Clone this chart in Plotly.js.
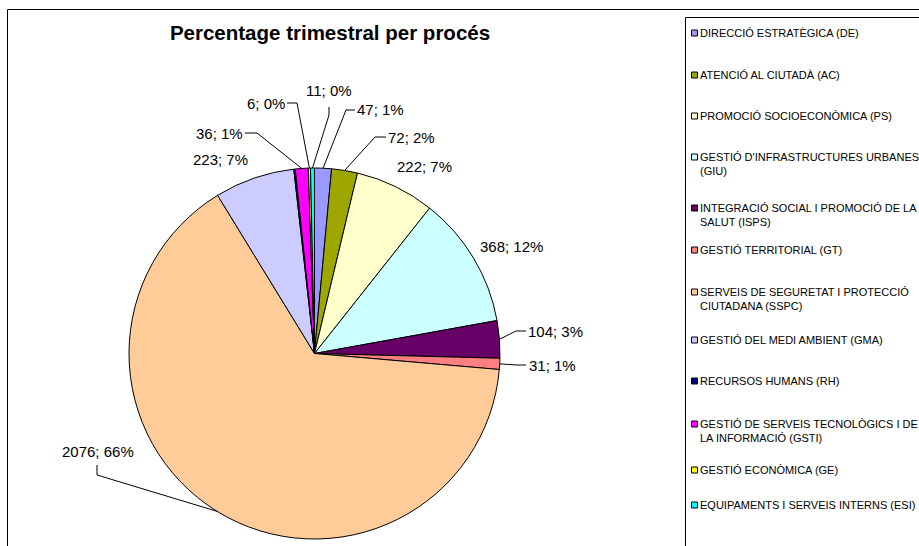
<!DOCTYPE html>
<html>
<head>
<meta charset="utf-8">
<script src="https://cdn.plot.ly/plotly-3.0.1.min.js"></script>
<style>html,body{margin:0;padding:0;background:#fff;}#chart{width:919px;height:546px;}</style>
</head>
<body>
<div id="chart"></div>
<script>
// ---- data ----
const categories = [
  "DIRECCIÓ ESTRATÈGICA (DE)",
  "ATENCIÓ AL CIUTADÀ (AC)",
  "PROMOCIÓ SOCIOECONÒMICA (PS)",
  "GESTIÓ D'INFRASTRUCTURES URBANES<br>(GIU)",
  "INTEGRACIÓ SOCIAL I PROMOCIÓ DE LA<br>SALUT (ISPS)",
  "GESTIÓ TERRITORIAL (GT)",
  "SERVEIS DE SEGURETAT I PROTECCIÓ<br>CIUTADANA (SSPC)",
  "GESTIÓ DEL MEDI AMBIENT (GMA)",
  "RECURSOS HUMANS (RH)",
  "GESTIÓ DE SERVEIS TECNOLÒGICS I DE<br>LA INFORMACIÓ (GSTI)",
  "GESTIÓ ECONÒMICA (GE)",
  "EQUIPAMENTS I SERVEIS INTERNS (ESI)"
];
const values = [47, 72, 222, 368, 104, 31, 2076, 223, 4, 36, 6, 11];
const pctLabels = ["1%", "2%", "7%", "12%", "3%", "1%", "66%", "7%", "", "1%", "0%", "0%"];
const colors = ["#9999FF", "#9EA600", "#FFFFCC", "#CCFFFF", "#660066", "#FF8080",
                "#FFCC99", "#CCCCFF", "#000080", "#FF00FF", "#FFFF00", "#00FFFF"];

// ---- layout config (pixels) ----
const W = 919, H = 546;
const FONT = "Liberation Sans, Arial, sans-serif";
const pie = {cx: 314.5, cy: 353.5, r: 185.5};
// label text centres and leader elbows (null = no leader, no label for RH)
const labelPos = [
  {x: 380, y: 110, lead: [[355,110],[346,110]]},
  {x: 411.5, y: 137, lead: [[386,137],[375,137]]},
  {x: 424, y: 166, lead: null},
  {x: 511.5, y: 247, lead: null},
  {x: 555.5, y: 331, lead: [[526,331],[516,331]]},
  {x: 552, y: 365, lead: [[526,365],[517,365]]},
  {x: 97.5, y: 451, lead: [[97,465],[97,475]]},
  {x: 220.5, y: 159, lead: null},
  null,
  {x: 219.5, y: 133, lead: [[245,133],[257,133]]},
  {x: 266, y: 103, lead: [[287,103],[297,103]]},
  {x: 329, y: 91, lead: [[329,107],[329,115]]}
];
const legendY = [33, 75, 116, 157, 208, 250, 292, 340, 381, 424, 470, 505];

const px = x => x / W;
const py = y => 1 - y / H;

const total = values.reduce((a, b) => a + b, 0);
const annotations = [];
const shapes = [];

// frames
shapes.push({type: 'rect', xref: 'paper', yref: 'paper', x0: px(7.5), x1: px(W + 20), y0: py(H + 20), y1: py(9.5),
  line: {color: '#000', width: 1}, fillcolor: 'rgba(0,0,0,0)', layer: 'below'});
shapes.push({type: 'rect', xref: 'paper', yref: 'paper', x0: px(685.5), x1: px(W + 20), y0: py(H + 20), y1: py(17.5),
  line: {color: '#000', width: 1}, fillcolor: 'rgba(0,0,0,0)', layer: 'below'});

// data labels + leaders
let cum = 0;
values.forEach((v, i) => {
  const mid = (cum + v / 2) / total;
  cum += v;
  const lp = labelPos[i];
  if (!lp || pctLabels[i] === "") return;
  const th = 2 * Math.PI * mid;
  const ax = pie.cx + pie.r * Math.sin(th);
  const ay = pie.cy - pie.r * Math.cos(th);
  annotations.push({
    xref: 'paper', yref: 'paper', x: px(lp.x), y: py(lp.y), xanchor: 'center', yanchor: 'middle',
    text: values[i] + '; ' + pctLabels[i], showarrow: false,
    font: {family: FONT, size: 15, color: '#000'}
  });
  if (lp.lead) {
    const pts = lp.lead.concat([[ax, ay]]);
    const path = pts.map((p, k) => (k ? 'L' : 'M') + px(p[0]) + ',' + py(p[1])).join(' ');
    shapes.push({type: 'path', xref: 'paper', yref: 'paper', path: path, line: {color: '#000', width: 1}});
  }
});

// legend
categories.forEach((c, i) => {
  const y = legendY[i];
  shapes.push({type: 'rect', xref: 'paper', yref: 'paper', x0: px(691.5), x1: px(697.5), y0: py(y + 3), y1: py(y - 3),
    fillcolor: colors[i], line: {color: '#000', width: 1}});
  c.split('<br>').forEach((line, k) => {
    annotations.push({
      xref: 'paper', yref: 'paper', x: px(698), y: py(y + 14 * k), xanchor: 'left', yanchor: 'middle',
      text: line, showarrow: false, font: {family: FONT, size: 11, color: '#000'}
    });
  });
});

const trace = {
  type: 'pie', values: values, labels: categories, sort: false, direction: 'clockwise', rotation: 0,
  textinfo: 'none', hoverinfo: 'none',
  marker: {colors: colors, line: {color: '#000', width: 1}},
  domain: {x: [px(pie.cx - pie.r), px(pie.cx + pie.r)], y: [py(pie.cy + pie.r), py(pie.cy - pie.r)]}
};

const layout = {
  width: W, height: H, margin: {l: 0, r: 0, t: 0, b: 0},
  paper_bgcolor: '#fff', showlegend: false,
  title: {text: '<b>Percentage trimestral per procés</b>', x: 330 / W, xanchor: 'center',
          y: 1 - 33 / H, yanchor: 'middle', xref: 'paper', yref: 'paper',
          font: {family: FONT, size: 20.5, color: '#000'}},
  annotations: annotations, shapes: shapes
};

Plotly.newPlot('chart', [trace], layout, {staticPlot: true, displayModeBar: false});
</script>
</body>
</html>
